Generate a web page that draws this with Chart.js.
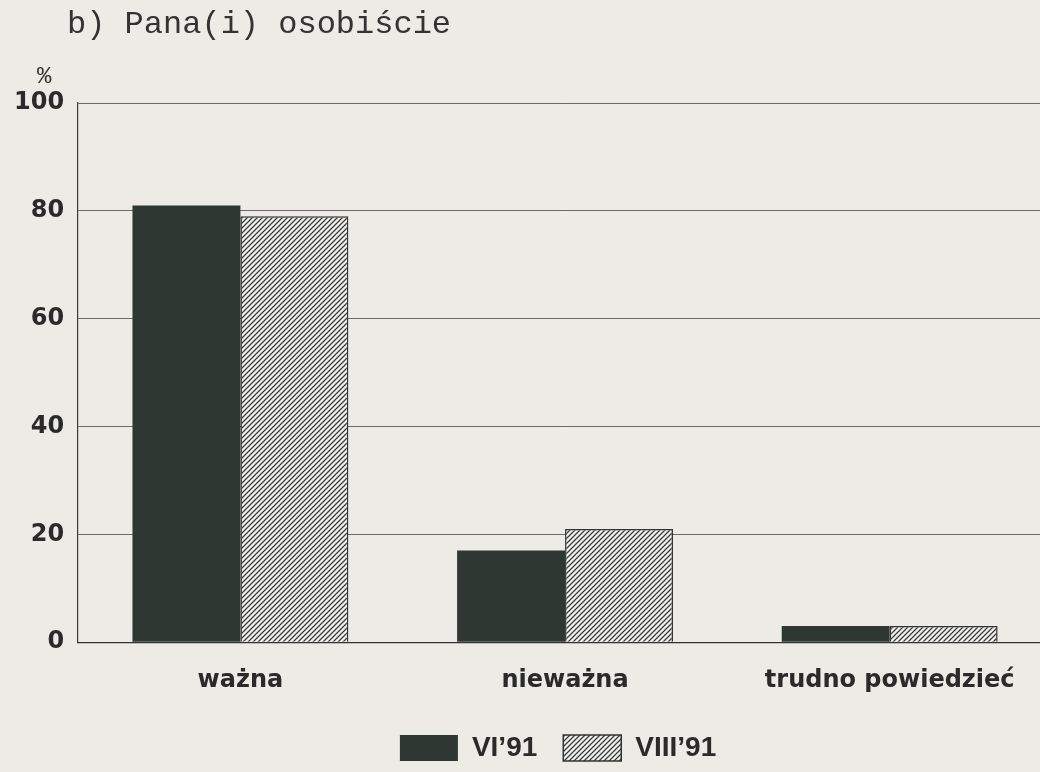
<!DOCTYPE html>
<html>
<head>
<meta charset="utf-8">
<script src="https://cdn.jsdelivr.net/npm/chart.js@4.4.1/dist/chart.umd.min.js"></script>
<style>
  html, body { margin: 0; padding: 0; background: #ecebe6; overflow: hidden; }
  #wrap { width: 1052px; height: 772px; }
</style>
</head>
<body>
<div id="wrap"><canvas id="barChart" width="1052" height="772"></canvas></div>
<script>
// Dane
const labels = ['ważna', 'nieważna', 'trudno powiedzieć'];
const jun91 = [81, 17, 3];
const aug91 = [79, 21, 3];
const yTicks = [0, 20, 40, 60, 80, 100];

// wzór kreskowany (ukośne linie)
function hatch() {
  const s = 5;
  const c = document.createElement('canvas');
  c.width = s; c.height = s;
  const g = c.getContext('2d');
  g.fillStyle = '#f3f2ee';
  g.fillRect(0, 0, s, s);
  g.strokeStyle = '#3a3f3b';
  g.lineWidth = 1.3;
  g.beginPath();
  g.moveTo(0, s); g.lineTo(s, 0);
  g.moveTo(-1, 1); g.lineTo(1, -1);
  g.moveTo(s - 1, s + 1); g.lineTo(s + 1, s - 1);
  g.stroke();
  return g.createPattern(c, 'repeat');
}

// tytuł i znak %
const headerText = {
  id: 'headerText',
  afterDraw(chart) {
    const ctx = chart.ctx;
    ctx.save();
    ctx.fillStyle = '#333';
    ctx.textBaseline = 'alphabetic';
    ctx.font = '32px "Liberation Mono"';
    ctx.fillText('b) Pana(i) osobiście', 67, 33);
    ctx.font = '24px "Liberation Mono"';
    ctx.fillText('%', 37, 83);
    ctx.restore();
  }
};

const ctx = document.getElementById('barChart').getContext('2d');
const barChart = new Chart(ctx, {
  type: 'bar',
  data: {
    labels: labels,
    datasets: [{
      label: 'VI’91',
      data: jun91,
      backgroundColor: '#2f3732',
      borderColor: '#2f3732',
      borderWidth: 0
    }, {
      label: 'VIII’91',
      data: aug91,
      backgroundColor: hatch(),
      borderColor: '#333',
      borderWidth: 1.5
    }]
  },
  options: {
    responsive: false,
    animation: false,
    layout: { padding: { left: 0, top: 103, right: 0, bottom: 0 } },
    datasets: { bar: { categoryPercentage: 0.665, barPercentage: 1.0 } },
    plugins: {
      legend: {
        display: true,
        position: 'bottom',
        fullSize: false,
        labels: {
          boxWidth: 58,
          boxHeight: 26,
          padding: 12,
          color: '#2a2a2a',
          font: { family: '"Liberation Sans"', size: 28, weight: 'bold' },
          generateLabels: chart => Chart.defaults.plugins.legend.labels.generateLabels(chart)
            .map(item => ({ ...item, text: item.text + '\u2002' }))
        }
      },
      tooltip: { enabled: false }
    },
    scales: {
      y: {
        min: 0,
        max: 100,
        afterBuildTicks: s => { s.ticks = yTicks.map(v => ({ value: v })); },
        ticks: {
          padding: 14,
          color: '#2a2a2a',
          font: { family: '"DejaVu Sans"', size: 24, weight: 'bold' }
        },
        grid: { color: '#6b6b6b', lineWidth: 1, drawTicks: false },
        border: { display: true, color: '#3a3a3a', width: 1.2 }
      },
      x: {
        afterFit: s => { s.height += 3; },
        ticks: {
          padding: 24,
          color: '#2a2a2a',
          font: { family: '"DejaVu Sans"', size: 24, weight: 'bold' }
        },
        grid: { display: false, drawTicks: false },
        border: { display: true, color: '#333', width: 1.2 }
      }
    }
  },
  plugins: [headerText]
});
</script>
</body>
</html>
